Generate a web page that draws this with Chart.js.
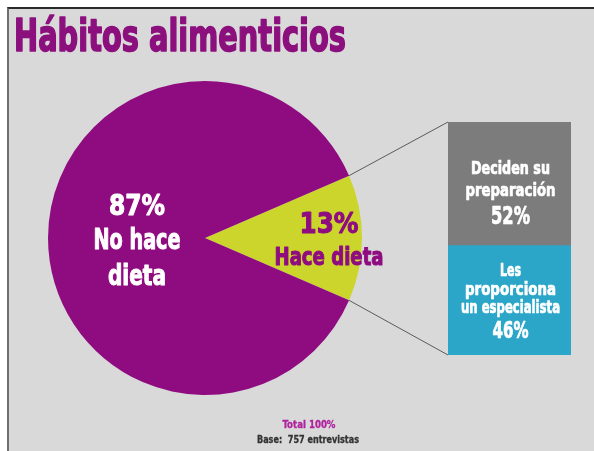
<!DOCTYPE html>
<html>
<head>
<meta charset="utf-8">
<script src="https://cdn.jsdelivr.net/npm/chart.js@4.4.1/dist/chart.umd.min.js"></script>
<style>
  html, body { margin: 0; padding: 0; background: #fff; }
  #panel {
    position: absolute; left: 7px; top: 7px; width: 587px; height: 444px;
    background: #d9d9d9;
    border-top: 2px solid #2a2a2a;
    border-left: 2px solid #6e6e6e;
    box-sizing: border-box;
  }
  #pieCanvas { position: absolute; left: 0; top: 0; }
  #barWrap { position: absolute; left: 448px; top: 122px; width: 123px; height: 233px; }
</style>
</head>
<body>
<div id="panel"></div>
<canvas id="pieCanvas" width="594" height="451"></canvas>
<div id="barWrap"><canvas id="barCanvas" width="123" height="233"></canvas></div>
<script>
// ── DATOS ────────────────────────────────────
const categorias      = ['Hace dieta', 'No hace dieta'];
const porcentajes     = [13, 87];
const subCategorias   = ['Les proporciona un especialista', 'Deciden su preparación'];
const subPorcentajes  = [46, 52];
const total           = 'Total 100%';
const base            = 'Base:  757 entrevistas';

const PURPLE = '#8f0c80';
const YELLOW = '#cbd52b';
const GRAY   = '#7c7c7c';
const CYAN   = '#2ba6c8';
const FONT   = "'DejaVu Sans Condensed', 'DejaVu Sans', sans-serif";

const BAR_LEFT = 448, BAR_TOP = 122;

// texto condensado: maxWidth comprime horizontalmente, el trazo lo engrosa
function txt(ctx, s, x, y, size, color, w, stroke, align) {
  ctx.save();
  ctx.font = `bold ${size}px ${FONT}`;
  ctx.fillStyle = color;
  ctx.strokeStyle = color;
  ctx.lineJoin = 'round';
  ctx.textAlign = align || 'center';
  ctx.textBaseline = 'alphabetic';
  if (stroke) {
    ctx.lineWidth = stroke;
    ctx.strokeText(s, x, y, w);
  }
  ctx.fillText(s, x, y, w);
  ctx.restore();
}

// ── BARRA APILADA ────────────────────────────
const barLabels = [
  ['Les', 'proporciona', 'un especialista', subPorcentajes[0] + '%'],
  ['Deciden su', 'preparación', subPorcentajes[1] + '%']
];
const barLayout = [
  [{ dy: -24.5, s: 18, w: 21 }, { dy: -5.5, s: 18, w: 91 }, { dy: 12.5, s: 18, w: 99 }, { dy: 37.5, s: 23, w: 36 }],
  [{ dy: -9.5, s: 18, w: 79 }, { dy: 12.5, s: 18, w: 90 }, { dy: 40.5, s: 24, w: 39 }]
];

const barChart = new Chart(document.getElementById('barCanvas'), {
  type: 'bar',
  data: {
    labels: [categorias[0]],
    datasets: subCategorias.map((c, i) => ({
      label: c,
      data: [subPorcentajes[i]],
      backgroundColor: i === 0 ? CYAN : GRAY,
      borderWidth: 0,
      barPercentage: 1,
      categoryPercentage: 1
    }))
  },
  options: {
    responsive: false,
    animation: false,
    layout: { padding: 0 },
    plugins: { legend: { display: false }, tooltip: { enabled: false } },
    scales: {
      x: { display: false, stacked: true },
      y: { display: false, stacked: true, min: 0, max: subPorcentajes.reduce((a, b) => a + b, 0) }
    }
  },
  plugins: [{
    id: 'barText',
    afterDraw(chart) {
      const ctx = chart.ctx;
      chart.data.datasets.forEach((d, i) => {
        const el = chart.getDatasetMeta(i).data[0];
        const cy = (el.y + el.base) / 2;
        barLabels[i].forEach((s, j) => {
          const l = barLayout[i][j];
          txt(ctx, s, el.x + 1, cy + l.dy, l.s, '#ffffff', l.w, 0.7);
        });
      });
    }
  }]
});

// ── TORTA ────────────────────────────────────
new Chart(document.getElementById('pieCanvas'), {
  type: 'pie',
  data: {
    labels: categorias,
    datasets: [{
      data: porcentajes,
      backgroundColor: [YELLOW, PURPLE],
      borderWidth: 0
    }]
  },
  options: {
    responsive: false,
    animation: false,
    rotation: 90 - porcentajes[0] * 3.6 / 2,
    layout: { padding: { left: 48, right: 232, top: 81, bottom: 56 } },
    plugins: { legend: { display: false }, tooltip: { enabled: false } }
  },
  plugins: [{
    id: 'extras',
    afterDraw(chart) {
      const ctx = chart.ctx;
      const arc = chart.getDatasetMeta(0).data[0];
      const r = arc.outerRadius;

      // líneas de conexión hacia la barra
      const top = barChart.getDatasetMeta(1).data[0];
      const bot = barChart.getDatasetMeta(0).data[0];
      const bx = BAR_LEFT + top.x - top.width / 2;
      ctx.save();
      ctx.strokeStyle = '#5a5a5a';
      ctx.lineWidth = 1;
      ctx.beginPath();
      ctx.moveTo(arc.x + r * Math.cos(arc.startAngle), arc.y + r * Math.sin(arc.startAngle));
      ctx.lineTo(bx, BAR_TOP + top.y);
      ctx.moveTo(arc.x + r * Math.cos(arc.endAngle), arc.y + r * Math.sin(arc.endAngle));
      ctx.lineTo(bx, BAR_TOP + bot.base);
      ctx.stroke();
      ctx.restore();

      // título
      txt(ctx, 'Hábitos alimenticios', 14, 51, 44, '#8c0f7e', 332, 1.6, 'left');

      // etiquetas de la torta
      txt(ctx, porcentajes[1] + '%', 137, 215, 28, '#ffffff', 56, 1);
      txt(ctx, 'No hace', 137, 249, 28, '#ffffff', 87, 1);
      txt(ctx, 'dieta', 137, 285, 28, '#ffffff', 58, 1);
      txt(ctx, porcentajes[0] + '%', 329, 233, 29, PURPLE, 59, 1);
      txt(ctx, 'Hace dieta', 329, 265, 25, PURPLE, 109, 1);

      // pie de gráfico
      txt(ctx, total, 309, 428, 10, '#b0239e', 53, 0.3);
      txt(ctx, base, 308, 443, 10, '#333333', 102, 0.3);
    }
  }]
});
</script>
</body>
</html>
